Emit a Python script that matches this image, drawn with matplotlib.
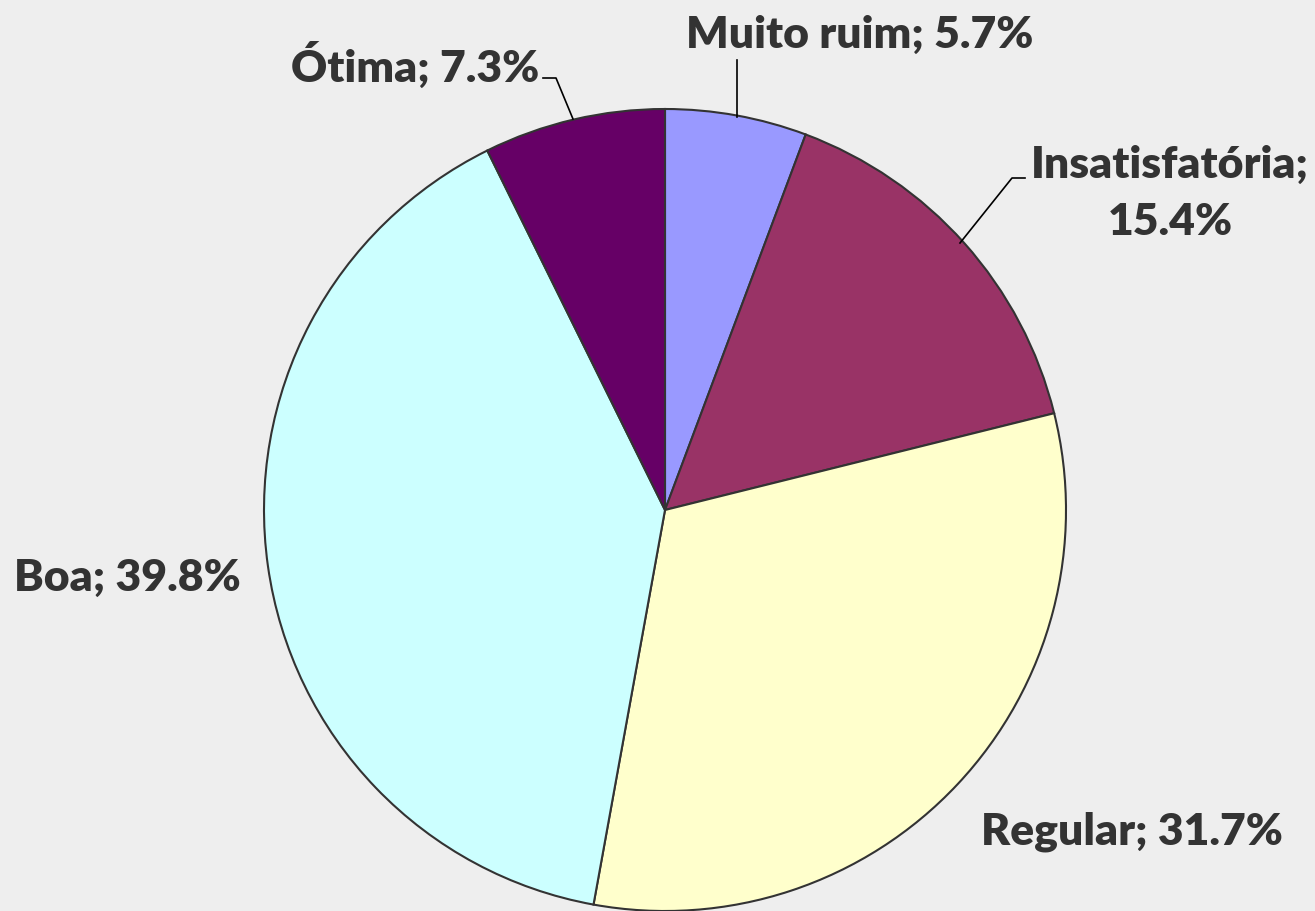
import matplotlib.pyplot as plt

# Avaliação: fatias em sentido horário a partir do topo
categorias = ['Muito ruim', 'Insatisfatória', 'Regular', 'Boa', 'Ótima']
percentuais = [5.7, 15.4, 31.7, 39.8, 7.3]
cores = ['#9999FF', '#993366', '#FFFFCC', '#CCFFFF', '#660066']

W, H = 1315, 911
fig = plt.figure(figsize=(W / 100, H / 100), dpi=100, facecolor='#EEEEEE')
ax = fig.add_axes([0, 0, 1, 1])

cx, cy, r = 665, H - 510, 401
ax.pie(percentuais, colors=cores, startangle=90, counterclock=False,
       center=(cx, cy), radius=r, frame=True,
       wedgeprops=dict(edgecolor='#333333', linewidth=1.5))
ax.set_xlim(0, W)
ax.set_ylim(0, H)
ax.set_aspect('equal')
ax.axis('off')

fonte = dict(family=['Lato', 'DejaVu Sans'], fontweight='heavy', fontsize=32,
             color='#333333', ha='center', va='center')
rotulos = [f'{c}; {p:.1f}%' for c, p in zip(categorias, percentuais)]

# posições dos rótulos (px, origem no topo) e linhas de chamada
ax.text(860, H - 35, rotulos[0], **fonte)
ax.plot([737, 737], [H - 60, H - 117], color='black', lw=1.2)

l1, l2 = rotulos[1].split(' ')
ax.text(1170, H - 165, l1, **fonte)
ax.text(1170, H - 222, l2, **fonte)
ax.plot([1025, 1012, 960], [H - 178, H - 178, H - 243], color='black', lw=1.2)

ax.text(1132, H - 832, rotulos[2], **fonte)
ax.text(127, H - 578, rotulos[3], **fonte)

ax.text(415, H - 65, rotulos[4], **fonte)
ax.plot([543, 556, 573], [H - 78, H - 78, H - 119], color='black', lw=1.2)

fig.savefig('out.png', dpi=100, facecolor=fig.get_facecolor())
